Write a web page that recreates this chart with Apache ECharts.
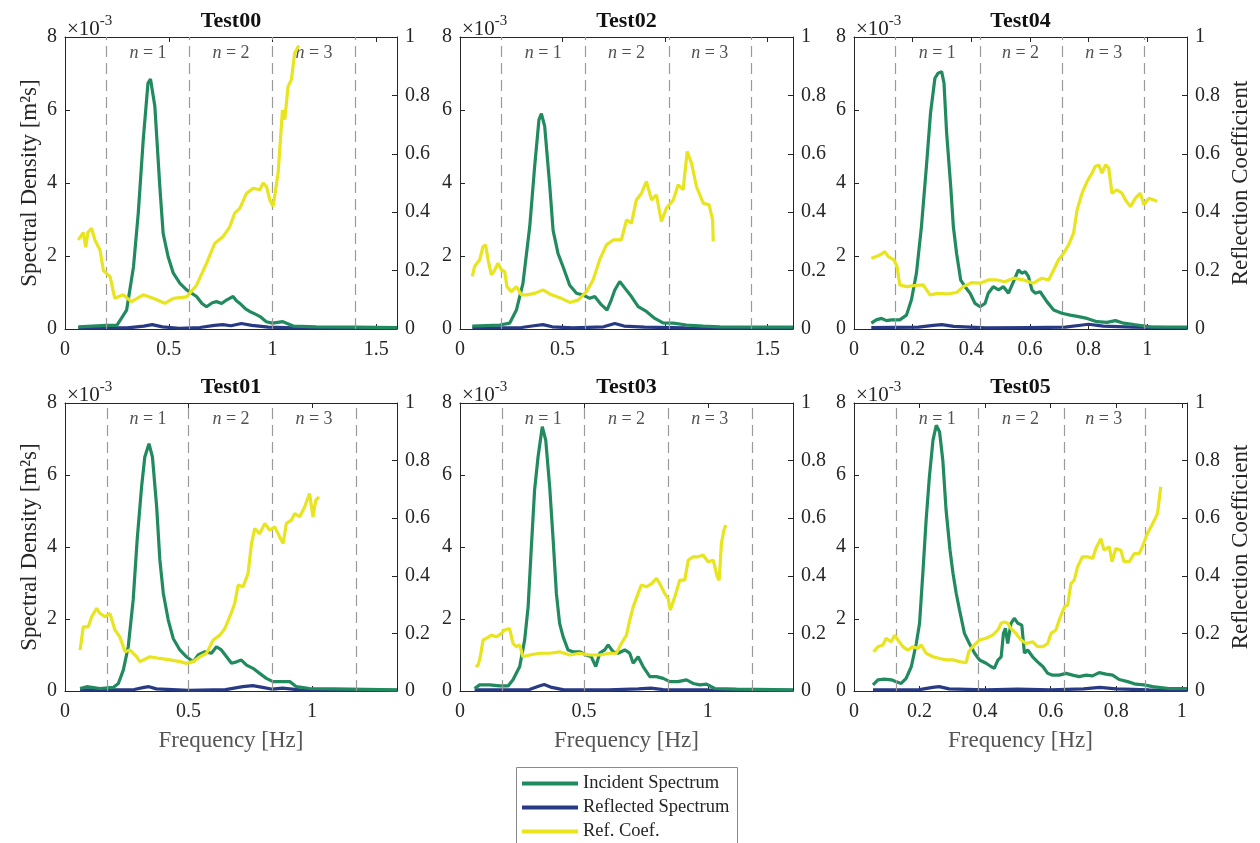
<!DOCTYPE html>
<html>
<head>
<meta charset="UTF-8">
<title>Reflection analysis</title>
<style>
  html, body, #main { margin: 0; padding: 0; width: 100%; height: 100%; background: #fff; overflow: hidden; }
</style>
</head>
<body>
<div id="main"></div>
<script src="https://cdn.jsdelivr.net/npm/echarts@6/dist/echarts.min.js"></script>
<script>
// panel order: top row Test00, Test02, Test04 ; bottom row Test01, Test03, Test05
const titles = ['Test00', 'Test02', 'Test04', 'Test01', 'Test03', 'Test05'];
const freqMax = [1.6, 1.624, 1.136, 1.344, 1.344, 1.016];
const freqStep = [0.5, 0.5, 0.2, 0.5, 0.5, 0.2];
const sdTicks = [0, 2, 4, 6, 8];           // x10^-3
const coefTicks = [0, 0.2, 0.4, 0.6, 0.8, 1];
const bandNames = ['1', '2', '3'];

// spectral density in units of 1e-3 m^2 s ; [frequency, value]
const test00Inc = [[0.064,0.06],[0.2,0.1],[0.25,0.1],[0.297,0.52],[0.33,1.7],[0.353,3.17],[0.377,5.18],[0.4,6.74],[0.412,6.85],[0.42,6.8],[0.433,6.1],[0.457,3.9],[0.473,2.62],[0.497,1.98],[0.522,1.53],[0.554,1.25],[0.586,1.07],[0.634,0.89],[0.66,0.7],[0.682,0.61],[0.71,0.72],[0.73,0.75],[0.755,0.7],[0.78,0.8],[0.81,0.89],[0.825,0.78],[0.843,0.7],[0.87,0.55],[0.89,0.48],[0.92,0.4],[0.94,0.34],[0.97,0.2],[1.0,0.16],[1.05,0.2],[1.1,0.08],[1.21,0.06],[1.4,0.05],[1.6,0.04]];
const test00Refl = [[0.064,0.03],[0.3,0.03],[0.38,0.08],[0.42,0.12],[0.47,0.06],[0.55,0.02],[0.65,0.04],[0.72,0.1],[0.76,0.12],[0.8,0.09],[0.85,0.15],[0.9,0.1],[0.98,0.05],[1.1,0.03],[1.6,0.02]];
const test00Coef = [[0.064,0.305],[0.088,0.33],[0.1,0.28],[0.11,0.33],[0.128,0.345],[0.144,0.305],[0.169,0.27],[0.185,0.2],[0.217,0.18],[0.24,0.105],[0.28,0.117],[0.32,0.094],[0.377,0.117],[0.425,0.105],[0.481,0.088],[0.522,0.105],[0.586,0.11],[0.634,0.15],[0.682,0.225],[0.722,0.294],[0.762,0.317],[0.794,0.35],[0.818,0.397],[0.843,0.414],[0.875,0.465],[0.907,0.482],[0.939,0.477],[0.955,0.5],[0.971,0.488],[0.987,0.442],[1.003,0.42],[1.027,0.534],[1.048,0.75],[1.059,0.717],[1.075,0.83],[1.091,0.854],[1.107,0.945],[1.127,0.971]];

const test02Inc = [[0.06,0.08],[0.194,0.11],[0.242,0.16],[0.275,0.52],[0.307,1.25],[0.34,2.8],[0.364,4.45],[0.385,5.73],[0.397,5.9],[0.413,5.55],[0.438,3.9],[0.454,2.7],[0.478,2.07],[0.503,1.7],[0.535,1.2],[0.568,0.98],[0.6,0.93],[0.633,0.84],[0.657,0.89],[0.69,0.66],[0.717,0.52],[0.738,0.8],[0.755,1.07],[0.779,1.3],[0.804,1.12],[0.836,0.89],[0.869,0.61],[0.909,0.48],[0.95,0.29],[0.99,0.17],[1.04,0.16],[1.105,0.11],[1.186,0.08],[1.267,0.06],[1.624,0.05]];
const test02Refl = [[0.06,0.03],[0.3,0.04],[0.36,0.09],[0.405,0.12],[0.45,0.06],[0.55,0.03],[0.7,0.06],[0.755,0.15],[0.8,0.08],[0.9,0.05],[1.1,0.03],[1.624,0.02]];
const test02Coef = [[0.06,0.18],[0.071,0.214],[0.096,0.237],[0.112,0.282],[0.125,0.288],[0.137,0.237],[0.153,0.185],[0.169,0.202],[0.185,0.225],[0.202,0.202],[0.218,0.197],[0.229,0.145],[0.25,0.128],[0.275,0.145],[0.299,0.117],[0.324,0.117],[0.364,0.122],[0.405,0.134],[0.446,0.117],[0.494,0.105],[0.535,0.091],[0.576,0.099],[0.617,0.128],[0.649,0.168],[0.681,0.237],[0.714,0.288],[0.747,0.305],[0.787,0.305],[0.812,0.374],[0.836,0.362],[0.86,0.442],[0.885,0.465],[0.909,0.505],[0.934,0.442],[0.958,0.459],[0.982,0.368],[1.007,0.414],[1.04,0.442],[1.064,0.494],[1.088,0.477],[1.108,0.608],[1.129,0.568],[1.153,0.488],[1.186,0.431],[1.215,0.425],[1.232,0.374],[1.235,0.3]];

const test04Inc = [[0.059,0.16],[0.076,0.25],[0.094,0.29],[0.111,0.23],[0.128,0.25],[0.156,0.25],[0.179,0.38],[0.196,0.8],[0.213,1.53],[0.23,2.8],[0.247,4.45],[0.261,5.91],[0.276,6.87],[0.287,7.01],[0.299,7.05],[0.307,6.74],[0.316,5.37],[0.33,3.9],[0.339,2.8],[0.35,2.07],[0.364,1.34],[0.379,1.16],[0.396,0.98],[0.413,0.7],[0.43,0.61],[0.447,0.7],[0.458,0.98],[0.475,1.16],[0.493,1.07],[0.51,1.16],[0.527,0.98],[0.544,1.3],[0.561,1.62],[0.572,1.53],[0.584,1.57],[0.595,1.44],[0.607,1.07],[0.618,0.98],[0.635,1.02],[0.658,0.75],[0.681,0.52],[0.709,0.43],[0.738,0.38],[0.766,0.34],[0.795,0.29],[0.829,0.2],[0.863,0.18],[0.892,0.23],[0.92,0.16],[0.966,0.11],[1.011,0.06],[1.136,0.05]];
const test04Refl = [[0.059,0.04],[0.22,0.05],[0.27,0.1],[0.3,0.12],[0.34,0.07],[0.45,0.03],[0.6,0.04],[0.72,0.05],[0.78,0.11],[0.8,0.13],[0.85,0.08],[0.95,0.05],[1.136,0.03]];
const test04Coef = [[0.059,0.242],[0.076,0.248],[0.094,0.257],[0.105,0.265],[0.117,0.248],[0.136,0.237],[0.147,0.214],[0.156,0.151],[0.179,0.145],[0.208,0.149],[0.236,0.151],[0.259,0.117],[0.287,0.122],[0.316,0.12],[0.35,0.125],[0.373,0.145],[0.401,0.159],[0.43,0.157],[0.458,0.168],[0.487,0.168],[0.515,0.162],[0.544,0.174],[0.578,0.168],[0.612,0.157],[0.641,0.174],[0.664,0.168],[0.681,0.202],[0.698,0.237],[0.715,0.259],[0.732,0.288],[0.749,0.328],[0.761,0.408],[0.778,0.465],[0.795,0.505],[0.812,0.534],[0.823,0.557],[0.835,0.562],[0.846,0.534],[0.858,0.562],[0.869,0.551],[0.88,0.465],[0.897,0.477],[0.914,0.465],[0.926,0.442],[0.943,0.419],[0.96,0.448],[0.977,0.465],[0.989,0.425],[1.006,0.448],[1.023,0.442],[1.034,0.437]];

const test01Inc = [[0.061,0.07],[0.088,0.12],[0.142,0.07],[0.195,0.1],[0.216,0.21],[0.236,0.58],[0.256,1.23],[0.276,2.53],[0.292,4.19],[0.31,5.67],[0.323,6.5],[0.34,6.87],[0.354,6.5],[0.371,5.12],[0.384,3.64],[0.398,2.71],[0.418,1.97],[0.438,1.46],[0.465,1.14],[0.492,0.95],[0.519,0.81],[0.539,1.0],[0.566,1.09],[0.593,1.05],[0.613,1.23],[0.633,1.14],[0.654,0.95],[0.674,0.77],[0.694,0.81],[0.714,0.86],[0.735,0.72],[0.761,0.63],[0.788,0.49],[0.815,0.35],[0.842,0.26],[0.876,0.26],[0.91,0.26],[0.937,0.12],[0.99,0.07],[1.085,0.06],[1.344,0.03]];
const test01Refl = [[0.061,0.03],[0.28,0.04],[0.32,0.1],[0.34,0.12],[0.37,0.06],[0.5,0.02],[0.65,0.04],[0.72,0.12],[0.76,0.15],[0.8,0.1],[0.84,0.05],[0.88,0.08],[0.95,0.03],[1.344,0.02]];
const test01Coef = [[0.061,0.142],[0.074,0.223],[0.094,0.223],[0.108,0.258],[0.128,0.287],[0.142,0.269],[0.162,0.258],[0.182,0.269],[0.202,0.212],[0.222,0.188],[0.243,0.136],[0.263,0.142],[0.29,0.119],[0.303,0.102],[0.344,0.119],[0.384,0.113],[0.425,0.108],[0.465,0.102],[0.492,0.096],[0.519,0.102],[0.546,0.119],[0.573,0.131],[0.6,0.177],[0.627,0.194],[0.647,0.217],[0.667,0.258],[0.687,0.304],[0.701,0.368],[0.721,0.362],[0.741,0.408],[0.755,0.512],[0.768,0.564],[0.788,0.546],[0.809,0.582],[0.829,0.558],[0.849,0.57],[0.869,0.535],[0.883,0.512],[0.896,0.582],[0.916,0.593],[0.93,0.616],[0.95,0.605],[0.97,0.639],[0.99,0.686],[1.004,0.605],[1.015,0.662],[1.028,0.674]];

const test03Inc = [[0.059,0.07],[0.079,0.17],[0.12,0.17],[0.16,0.14],[0.194,0.14],[0.214,0.31],[0.241,0.68],[0.261,1.42],[0.275,2.34],[0.288,4.0],[0.301,5.58],[0.315,6.5],[0.332,7.34],[0.346,6.97],[0.362,5.67],[0.376,4.19],[0.389,2.71],[0.402,1.88],[0.416,1.51],[0.436,1.14],[0.456,1.09],[0.483,1.09],[0.51,1.0],[0.53,0.95],[0.548,0.68],[0.564,1.05],[0.584,1.14],[0.598,1.28],[0.618,1.09],[0.638,1.05],[0.665,1.14],[0.685,1.05],[0.699,0.77],[0.719,0.95],[0.739,0.68],[0.766,0.4],[0.793,0.4],[0.82,0.35],[0.847,0.26],[0.88,0.26],[0.914,0.31],[0.941,0.21],[0.968,0.17],[0.995,0.19],[1.028,0.07],[1.116,0.05],[1.344,0.03]];
const test03Refl = [[0.059,0.03],[0.28,0.04],[0.32,0.14],[0.34,0.18],[0.37,0.1],[0.42,0.03],[0.6,0.03],[0.72,0.06],[0.77,0.08],[0.82,0.04],[1.0,0.03],[1.344,0.02]];
const test03Coef = [[0.063,0.084],[0.073,0.09],[0.082,0.119],[0.093,0.177],[0.106,0.183],[0.127,0.194],[0.147,0.188],[0.167,0.2],[0.18,0.212],[0.2,0.217],[0.214,0.165],[0.227,0.154],[0.241,0.16],[0.254,0.119],[0.281,0.125],[0.322,0.131],[0.362,0.131],[0.402,0.136],[0.443,0.125],[0.483,0.131],[0.524,0.125],[0.564,0.125],[0.604,0.131],[0.631,0.131],[0.651,0.165],[0.672,0.194],[0.685,0.246],[0.699,0.292],[0.719,0.339],[0.732,0.368],[0.753,0.362],[0.773,0.373],[0.793,0.391],[0.806,0.373],[0.826,0.339],[0.84,0.321],[0.849,0.281],[0.867,0.327],[0.887,0.385],[0.907,0.385],[0.921,0.454],[0.941,0.466],[0.961,0.466],[0.981,0.472],[1.001,0.449],[1.022,0.454],[1.038,0.397],[1.046,0.385],[1.055,0.512],[1.065,0.558],[1.073,0.576]];

const test05Inc = [[0.058,0.17],[0.073,0.31],[0.093,0.33],[0.114,0.31],[0.129,0.26],[0.144,0.21],[0.159,0.35],[0.175,0.68],[0.19,1.32],[0.2,1.88],[0.21,3.27],[0.22,4.74],[0.23,5.95],[0.241,6.97],[0.251,7.38],[0.261,7.2],[0.271,6.41],[0.281,5.02],[0.293,3.91],[0.302,3.27],[0.312,2.71],[0.322,2.25],[0.337,1.6],[0.352,1.32],[0.368,1.05],[0.383,0.86],[0.403,0.77],[0.418,0.68],[0.428,0.63],[0.439,0.86],[0.449,0.95],[0.456,1.6],[0.462,1.74],[0.469,1.32],[0.479,1.88],[0.489,2.02],[0.5,1.88],[0.512,1.83],[0.52,1.05],[0.53,1.14],[0.545,0.95],[0.56,0.81],[0.576,0.68],[0.591,0.49],[0.606,0.44],[0.626,0.44],[0.647,0.49],[0.667,0.44],[0.687,0.4],[0.708,0.44],[0.728,0.42],[0.748,0.51],[0.769,0.47],[0.789,0.44],[0.809,0.32],[0.835,0.26],[0.86,0.19],[0.885,0.17],[0.911,0.12],[0.961,0.07],[1.016,0.07]];
const test05Refl = [[0.058,0.03],[0.2,0.04],[0.24,0.1],[0.26,0.12],[0.29,0.06],[0.4,0.03],[0.5,0.05],[0.6,0.03],[0.7,0.06],[0.75,0.1],[0.8,0.06],[0.9,0.03],[1.016,0.02]];
const test05Coef = [[0.06,0.136],[0.073,0.154],[0.088,0.16],[0.098,0.183],[0.114,0.171],[0.124,0.194],[0.134,0.177],[0.149,0.154],[0.164,0.142],[0.18,0.154],[0.195,0.148],[0.205,0.16],[0.22,0.131],[0.241,0.119],[0.261,0.113],[0.281,0.108],[0.302,0.108],[0.322,0.102],[0.342,0.098],[0.35,0.136],[0.362,0.154],[0.383,0.177],[0.403,0.183],[0.423,0.194],[0.439,0.212],[0.449,0.235],[0.459,0.24],[0.469,0.235],[0.479,0.217],[0.494,0.2],[0.51,0.177],[0.525,0.165],[0.545,0.171],[0.56,0.154],[0.576,0.154],[0.591,0.165],[0.601,0.2],[0.616,0.212],[0.626,0.246],[0.642,0.292],[0.652,0.298],[0.662,0.373],[0.672,0.385],[0.682,0.431],[0.697,0.466],[0.713,0.466],[0.728,0.46],[0.738,0.495],[0.753,0.529],[0.763,0.489],[0.779,0.501],[0.787,0.449],[0.799,0.495],[0.814,0.489],[0.824,0.449],[0.84,0.449],[0.855,0.477],[0.87,0.477],[0.88,0.501],[0.895,0.547],[0.911,0.581],[0.926,0.616],[0.936,0.709]];

const incData = [test00Inc, test02Inc, test04Inc, test01Inc, test03Inc, test05Inc];
const reflData = [test00Refl, test02Refl, test04Refl, test01Refl, test03Refl, test05Refl];
const coefData = [test00Coef, test02Coef, test04Coef, test01Coef, test03Coef, test05Coef];

// layout
const boxes = [[65,37,332,292],[460,37,333,292],[854,37,333,292],[65,403,332,288],[460,403,333,288],[854,403,333,288]];
const FONT = 'Liberation Serif';
const INK = '#262626';
const C_INC = '#218b5f', C_REFL = '#283a84', C_COEF = '#e8e41e';

const chart = echarts.init(document.getElementById('main'), null, { renderer: 'canvas' });

const grid = [], xAxis = [], yAxis = [], series = [], graphic = [];
function axisLine() { return { show: true, onZero: false, lineStyle: { color: INK, width: 1 } }; }
function tickIn() { return { show: true, inside: true, length: 5, lineStyle: { color: INK, width: 1 } }; }
const lab = { color: INK, fontFamily: FONT, fontSize: 20 };

boxes.forEach(function (b, i) {
  const m = freqMax[i], st = freqStep[i];
  grid.push({ left: b[0], top: b[1], width: b[2], height: b[3] });
  xAxis.push({
    type: 'value', gridIndex: i, position: 'bottom', min: 0, max: m, interval: st,
    axisLine: axisLine(), axisTick: tickIn(), splitLine: { show: false },
    axisLabel: Object.assign({ margin: 11, formatter: function (v) {
      const k = v / st; return Math.abs(k - Math.round(k)) > 1e-6 ? '' : String(+v.toFixed(2));
    } }, lab),
    name: i >= 3 ? 'Frequency [Hz]' : '', nameLocation: 'middle', nameGap: 38,
    nameTextStyle: { color: '#555', fontFamily: FONT, fontSize: 23 }
  });
  xAxis.push({
    type: 'value', gridIndex: i, position: 'top', min: 0, max: m, interval: st,
    axisLine: axisLine(), axisTick: tickIn(), axisLabel: { show: false }, splitLine: { show: false }
  });
  yAxis.push({
    type: 'value', gridIndex: i, position: 'left', min: sdTicks[0], max: sdTicks[sdTicks.length - 1], interval: 2,
    axisLine: axisLine(), axisTick: tickIn(), splitLine: { show: false },
    axisLabel: Object.assign({ margin: 8 }, lab),
    name: i % 3 === 0 ? 'Spectral Density [m²s]' : '', nameLocation: 'middle', nameGap: 24,
    nameTextStyle: { color: INK, fontFamily: FONT, fontSize: 23 }
  });
  yAxis.push({
    type: 'value', gridIndex: i, position: 'right', min: coefTicks[0], max: coefTicks[coefTicks.length - 1], interval: 0.2,
    axisLine: axisLine(), axisTick: tickIn(), splitLine: { show: false },
    axisLabel: Object.assign({ margin: 8 }, lab),
    name: i % 3 === 2 ? 'Reflection Coefficient' : '', nameLocation: 'middle', nameGap: 42,
    nameTextStyle: { color: INK, fontFamily: FONT, fontSize: 23 }
  });

  const line = function (name, data, color, yi, z) {
    return {
      name: name, type: 'line', xAxisIndex: 2 * i, yAxisIndex: yi, data: data,
      showSymbol: false, symbol: 'none', z: z, silent: true,
      lineStyle: { color: color, width: 3.2 }, itemStyle: { color: color }
    };
  };
  series.push(line('Reflected Spectrum', reflData[i], C_REFL, 2 * i, 3));
  series.push(line('Incident Spectrum', incData[i], C_INC, 2 * i, 4));
  series.push(line('Ref. Coef.', coefData[i], C_COEF, 2 * i + 1, 5));

  // band separators and n labels
  series.push({
    type: 'scatter', xAxisIndex: 2 * i, yAxisIndex: 2 * i, symbolSize: 0, silent: true, z: 2,
    data: bandNames.map(function (n, k) { return [m * (k + 1) / 4, 7.55]; }),
    label: {
      show: true, position: 'inside', color: INK, fontFamily: FONT, fontSize: 18,
      formatter: function (p) { return '{i|n} = ' + bandNames[p.dataIndex]; },
      rich: { i: { fontStyle: 'italic', fontFamily: FONT, fontSize: 18, color: INK } }
    },
    markLine: {
      silent: true, symbol: ['none', 'none'], label: { show: false },
      lineStyle: { color: '#9a9a9a', type: [11, 6], width: 1.2 },
      data: [1, 3, 5, 7].map(function (k) { return { xAxis: m * k / 8 }; })
    }
  });

  // panel title
  graphic.push({
    type: 'text', x: b[0] + b[2] / 2, y: b[1] - 16, silent: true,
    style: {
      text: titles[i], align: 'center', verticalAlign: 'middle', fill: '#111',
      fontFamily: FONT, fontWeight: 'bold', fontSize: 22
    }
  });
  // exponent of the left axis
  graphic.push({
    type: 'text', left: b[0] + 2, top: b[1] - 23, silent: true,
    style: {
      text: '{a|×10}{b|-3}', fill: INK,
      rich: {
        a: { fontFamily: FONT, fontSize: 21, lineHeight: 26, verticalAlign: 'bottom', fill: INK },
        b: { fontFamily: FONT, fontSize: 15, lineHeight: 26, verticalAlign: 'top', fill: INK }
      }
    }
  });
});

// legend frame (runs past the bottom edge like the original)
graphic.push({
  type: 'rect', silent: true, z: 1,
  shape: { x: 516.5, y: 767.5, width: 221, height: 90 },
  style: { fill: '#fff', stroke: '#8a8a8a', lineWidth: 1 }
});

chart.setOption({
  animation: false,
  backgroundColor: '#fff',
  grid: grid,
  xAxis: xAxis,
  yAxis: yAxis,
  series: series,
  graphic: graphic,
  legend: {
    data: ['Incident Spectrum', 'Reflected Spectrum', 'Ref. Coef.'],
    orient: 'vertical', left: 522, top: 774, z: 10,
    icon: 'rect', itemWidth: 56, itemHeight: 4, itemGap: 5,
    padding: 0,
    textStyle: { fontFamily: FONT, fontSize: 18.5, lineHeight: 18, color: INK },
    selectedMode: false
  }
});
</script>
</body>
</html>
